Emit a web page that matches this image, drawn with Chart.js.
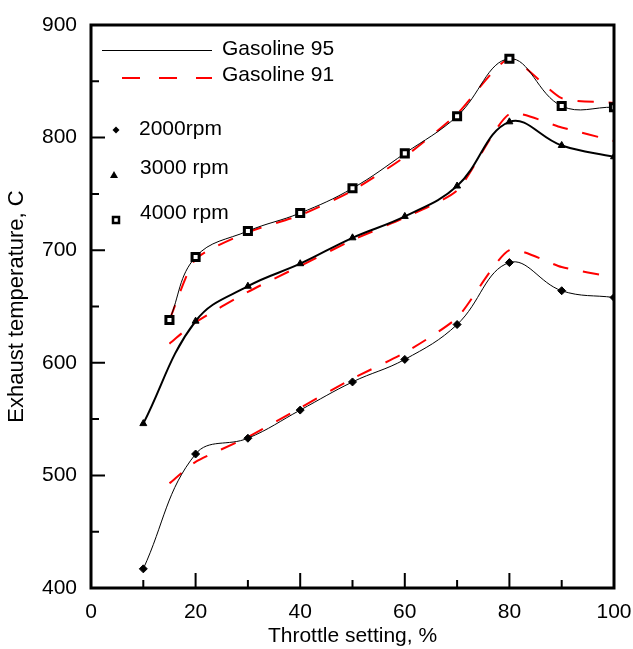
<!DOCTYPE html>
<html>
<head>
<meta charset="utf-8">
<script src="https://cdn.jsdelivr.net/npm/chart.js@4.4.1/dist/chart.umd.min.js"></script>
<style>
  html, body { margin: 0; padding: 0; background: #fff; }
</style>
</head>
<body>
<canvas id="tempChart" width="633" height="649"></canvas>
<script>
// throttle settings (%)
const throttleFull  = [10, 20, 30, 40, 50, 60, 70, 80, 90, 100];
const throttleFrom15 = [15, 20, 30, 40, 50, 60, 70, 80, 90, 100];

// Gasoline 95 (black, with markers)
const g95_2000 = [417, 519, 533, 558, 583, 603, 634, 689, 664, 658];
const g95_3000 = [546, 637, 668, 688, 711, 730, 757, 814, 793, 783];
const g95_4000 = [638, 694, 717, 733, 755, 786, 819, 870, 828, 827];

// Gasoline 91 (red dashed)
const g91_2000 = [493, 512, 534, 560, 586, 609, 640, 700, 685, 676];
const g91_3000 = [617, 636, 663, 686, 709, 729, 753, 821, 809, 797];
const g91_4000 = [638, 692, 716, 731, 753, 783, 821, 870, 835, 831];

const xMajor = [0, 20, 40, 60, 80, 100];
const xMinor = [10, 30, 50, 70, 90];
const yMajor = [400, 500, 600, 700, 800, 900];
const yMinor = [450, 550, 650, 750, 850];

const fuelNames = ['Gasoline 95', 'Gasoline 91'];
const speedNames = ['2000rpm', '3000 rpm', '4000 rpm'];

const pts = (xs, ys) => xs.map((x, i) => ({ x, y: ys[i] }));

Chart.defaults.font.family = '"Liberation Sans", Arial, sans-serif';
Chart.defaults.color = '#000';

function blackLine(xs, ys, style, r, width) {
  return {
    data: pts(xs, ys),
    borderColor: '#000',
    borderWidth: width,
    tension: 0.4,
    pointStyle: style,
    pointRadius: r,
    pointBackgroundColor: style === 'rect' ? '#fff' : '#000',
    pointBorderColor: '#000',
    pointBorderWidth: style === 'rect' ? 3 : 1
  };
}
function redLine(xs, ys) {
  return {
    data: pts(xs, ys),
    borderColor: '#ff0000',
    borderWidth: 2,
    borderDash: [16, 15],
    tension: 0.2,
    pointRadius: 0
  };
}

// frame and inward ticks
const frameTicks = {
  id: 'frameTicks',
  afterDraw(chart) {
    const { ctx, chartArea: a, scales: { x, y } } = chart;
    ctx.save();
    ctx.strokeStyle = '#000';
    ctx.lineWidth = 2;
    ctx.beginPath();
    xMajor.forEach(v => { const p = x.getPixelForValue(v); ctx.moveTo(p, a.bottom); ctx.lineTo(p, a.bottom - 15); });
    xMinor.forEach(v => { const p = x.getPixelForValue(v); ctx.moveTo(p, a.bottom); ctx.lineTo(p, a.bottom - 8); });
    yMajor.forEach(v => { const p = y.getPixelForValue(v); ctx.moveTo(a.left, p); ctx.lineTo(a.left + 14, p); });
    yMinor.forEach(v => { const p = y.getPixelForValue(v); ctx.moveTo(a.left, p); ctx.lineTo(a.left + 8, p); });
    ctx.stroke();
    ctx.lineWidth = 3;
    ctx.strokeRect(a.left, a.top, a.right - a.left, a.bottom - a.top);
    ctx.restore();
  }
};

// legend box in the upper left of the plot
const innerLegend = {
  id: 'innerLegend',
  afterDraw(chart) {
    const ctx = chart.ctx;
    ctx.save();
    ctx.font = '21px "Liberation Sans", Arial, sans-serif';
    ctx.fillStyle = '#000';
    ctx.textBaseline = 'middle';
    ctx.textAlign = 'left';

    ctx.strokeStyle = '#000';
    ctx.lineWidth = 1;
    ctx.beginPath(); ctx.moveTo(102, 50.5); ctx.lineTo(212, 50.5); ctx.stroke();
    ctx.fillText(fuelNames[0], 222, 49);

    ctx.strokeStyle = '#ff0000';
    ctx.lineWidth = 2;
    ctx.setLineDash([18, 19]);
    ctx.beginPath(); ctx.moveTo(122, 78); ctx.lineTo(212, 78); ctx.stroke();
    ctx.setLineDash([]);
    ctx.fillText(fuelNames[1], 222, 75);

    // diamond
    ctx.fillStyle = '#000';
    ctx.beginPath();
    ctx.moveTo(116, 126.5); ctx.lineTo(119.5, 130); ctx.lineTo(116, 133.5); ctx.lineTo(112.5, 130);
    ctx.closePath(); ctx.fill();
    ctx.fillText(speedNames[0], 139, 129);

    // triangle
    ctx.beginPath();
    ctx.moveTo(114, 171); ctx.lineTo(118, 178); ctx.lineTo(110, 178);
    ctx.closePath(); ctx.fill();
    ctx.fillText(speedNames[1], 140, 168);

    // square
    ctx.strokeStyle = '#000';
    ctx.lineWidth = 2.5;
    ctx.fillStyle = '#fff';
    ctx.fillRect(113, 217, 6, 6);
    ctx.strokeRect(113, 217, 6, 6);
    ctx.fillStyle = '#000';
    ctx.fillText(speedNames[2], 140, 213);
    ctx.restore();
  }
};

new Chart(document.getElementById('tempChart'), {
  type: 'line',
  data: {
    datasets: [
      blackLine(throttleFull, g95_2000, 'rectRot', 4, 1),
      blackLine(throttleFull, g95_3000, 'triangle', 4, 2),
      blackLine(throttleFrom15, g95_4000, 'rect', 5, 1),
      redLine(throttleFrom15, g91_2000),
      redLine(throttleFrom15, g91_3000),
      redLine(throttleFrom15, g91_4000)
    ]
  },
  options: {
    responsive: false,
    animation: false,
    layout: { padding: { top: 25, right: 19, left: 0, bottom: 0 } },
    plugins: { legend: { display: false }, tooltip: { enabled: false } },
    scales: {
      x: {
        type: 'linear',
        min: 0, max: 100,
        grid: { display: false, drawTicks: false },
        border: { display: false },
        ticks: { stepSize: 20, padding: 12, font: { size: 21 } },
        title: { display: true, text: 'Throttle setting, %', font: { size: 21 }, padding: { top: 0, bottom: 0 } },
        afterFit: s => { s.height = 61; s.paddingLeft = 0; s.paddingRight = 0; }
      },
      y: {
        min: 400, max: 900,
        grid: { display: false, drawTicks: false },
        border: { display: false },
        ticks: { stepSize: 100, padding: 14, font: { size: 21 } },
        title: { display: true, text: 'Exhaust temperature, C', font: { size: 22 }, padding: { top: 4, bottom: 0 } },
        afterFit: s => { s.width = 91; s.paddingTop = 0; s.paddingBottom = 0; }
      }
    }
  },
  plugins: [frameTicks, innerLegend]
});
</script>
</body>
</html>
